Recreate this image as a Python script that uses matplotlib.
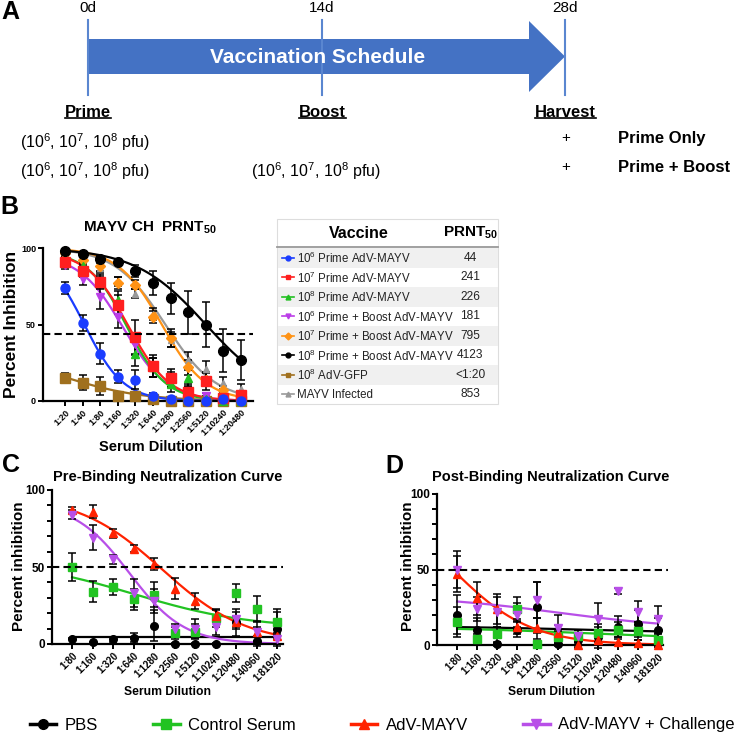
import numpy as np
import matplotlib
matplotlib.use('Agg')
import matplotlib.pyplot as plt
from matplotlib.patches import FancyArrow, Rectangle
from matplotlib.lines import Line2D

plt.rcParams['font.family'] = ['Liberation Sans', 'DejaVu Sans']
plt.rcParams['mathtext.fontset'] = 'custom'
plt.rcParams['mathtext.rm'] = 'Liberation Sans'
plt.rcParams['mathtext.it'] = 'Liberation Sans:italic'
plt.rcParams['mathtext.bf'] = 'Liberation Sans:bold'

W, H = 736, 735

# ---------------- panel B data ----------------
dil_b = ['1:20', '1:40', '1:80', '1:160', '1:320', '1:640', '1:1280',
         '1:2560', '1:5120', '1:10240', '1:20480']
vaccines = [r'10$^{6}$ Prime AdV-MAYV', r'10$^{7}$ Prime AdV-MAYV',
            r'10$^{8}$ Prime AdV-MAYV', r'10$^{6}$ Prime + Boost AdV-MAYV',
            r'10$^{7}$ Prime + Boost AdV-MAYV', r'10$^{8}$ Prime + Boost AdV-MAYV',
            r'10$^{8}$ AdV-GFP', 'MAYV Infected']
prnt50 = ['44', '241', '226', '181', '795', '4123', '<1:20', '853']
b_colors = ['#1a3cff', '#ff1f1f', '#22c022', '#bb3de8', '#ff9214', '#000000',
            '#a0701e', '#999999']
b_markers = ['o', 's', '^', 'v', 'D', 'o', 's', '^']
b_ms = [6.5, 6.5, 6, 6, 5, 7, 6.5, 5]

b_blue = [74, 51, 31, 16, 14, 3, 1, 0, 0, 1, 0]
b_red = [91, 85, 78, 63, 42, 23, 15, 6, 13, 2, 4]
b_green = [93, 88, 78, 66, 31, 22, 11, 15, 1, 0, 0]
b_magenta = [89, 80, 68, 55, 37, 22, 14, 6, 3, 2, 1]
b_orange = [97, 92, 88, 77, 76, 55, 41, 22, 14, 7, 4]
b_black = [98, 96, 93, 91, 85, 77, 67, 58, 50, 33, 27]
b_brown = [15, 12, 10, 3, 3, 1, 0, 0, 0, 0, 0]
b_grey = [96, 93, 87, 78, 70, 57, 40, 27, 21, 12, 8]

b_blue_err = [4, 5, 7, 4, 6, 2, 1, 1, 1, 1, 1]
b_red_err = [3, 4, 5, 6, 11, 7, 6, 5, 6, 3, 2]
b_green_err = [2, 3, 4, 6, 8, 6, 5, 5, 2, 2, 1]
b_magenta_err = [3, 4, 8, 7, 7, 6, 5, 3, 2, 2, 1]
b_orange_err = [2, 2, 3, 4, 3, 4, 6, 5, 4, 3, 2]
b_black_err = [1, 1, 2, 2, 4, 8, 10, 14, 15, 14, 13]
b_brown_err = [3, 5, 6, 2, 2, 1, 1, 1, 1, 1, 1]
b_grey_err = [2, 2, 3, 3, 3, 4, 5, 5, 5, 4, 3]

# fitted curve parameters (top, bottom, midpoint index, slope)
b_fits = [(100, 0, 1.1, 0.9), (98, 0, 3.6, 0.85), (98, 0, 3.5, 0.9),
          (96, 0, 3.3, 0.8), (100, 0, 5.5, 0.8), (100, 0, 8.0, 0.5),
          (31, 0, 0.0, 0.45), (100, 0, 5.7, 0.7)]
b_cutoff = 44

# ---------------- panels C / D data ----------------
dil_cd = ['1:80', '1:160', '1:320', '1:640', '1:1280', '1:2560', '1:5120',
          '1:10240', '1:20480', '1:40960', '1:81920']
groups = ['PBS', 'Control Serum', 'AdV-MAYV', 'AdV-MAYV + Challenge']
cd_colors = ['#000000', '#22c322', '#ff2200', '#b84fe8']
cd_markers = ['o', 's', '^', 'v']

c_pbs = [3.5, 1, 3, 4, 12, 0, 0, 0, 14, 2, 10]
c_ctrl = [50, 34, 37, 29, 32, 7, 8, 17, 33, 23, 14]
c_adv = [87, 86, 72, 62, 52, 36, 28, 18, 14, 8, 5]
c_chal = [84, 69, 55, 33, 28, 10, 10, 11, 16, 8, 3]
c_pbs_err = [0.5, 0.5, 1.5, 3, 10, 0.5, 0.5, 0.5, 9, 3, 11]
c_ctrl_err = [9, 7, 5, 7, 8, 4, 5, 6, 6, 8, 9]
c_adv_err = [2, 4, 3, 2, 4, 7, 5, 4, 4, 3, 2]
c_chal_err = [3, 8, 3, 9, 8, 3, 6, 5, 5, 6, 3]
c_fits = [(4.5, 4.5, 5, 1), (55, 10, 3, 0.35), (97, 0, 4.39, 0.486), (92, 0, 2.8, 0.75)]

d_pbs = [20, 10, 0.5, 10, 25, 0.5, 3, 5, 12, 14, 10]
d_ctrl = [15, 4, 7, 24, 0.5, 5, 6, 8, 10, 9, 3]
d_adv = [47, 31, 24, 12, 11, 8, 0, 3, 2, 1, 0]
d_chal = [50, 24, 22, 20, 30, 11, 6, 17, 36, 22, 17]
d_pbs_err = [13, 8, 1, 5, 17, 1, 5, 7, 7, 9, 8]
d_ctrl_err = [10, 3, 5, 8, 1, 4, 4, 6, 5, 6, 4]
d_adv_err = [12, 11, 10, 5, 7, 5, 1, 3, 2, 2, 1]
d_chal_err = [12, 8, 10, 8, 12, 9, 4, 11, 2, 7, 9]
d_fits = [(12.5, 8, 6, 0.3), (12, 3, 7, 0.25), (100, 0, -0.233, 0.516), (33, 10, 5, 0.3)]
cd_cutoff = 50


def logistic(x, top, bot, mid, k):
    return bot + (top - bot) / (1 + np.exp(k * (x - mid)))


def px(x0, y0, x1, y1):
    # pixel box (top-left origin) -> figure fraction rect
    return [x0 / W, 1 - y1 / H, (x1 - x0) / W, (y1 - y0) / H]


def draw_series(ax, y, err, color, marker, ms, fit):
    x = np.arange(len(y))
    xs = np.linspace(0, len(y) - 1, 200)
    ax.plot(xs, logistic(xs, *fit), color=color, lw=1.6, zorder=2, clip_on=False)
    ax.errorbar(x, y, yerr=err, fmt='none', ecolor='black', elinewidth=1.1,
                capsize=3, capthick=1.1, zorder=3, clip_on=False)
    ax.plot(x, y, ls='none', marker=marker, color=color, ms=ms, zorder=4, clip_on=False)


def prism_axes(ax, labels, xlim, xfs, yfs, minor):
    ax.set_facecolor('none')
    ax.set_xlim(xlim)
    ax.set_ylim(0, 100)
    for s in ['top', 'right']:
        ax.spines[s].set_visible(False)
    for s in ['left', 'bottom']:
        ax.spines[s].set_linewidth(1.6)
    ax.set_xticks(range(len(labels)))
    ax.set_xticklabels(labels, rotation=45, ha='right', rotation_mode='anchor',
                       fontsize=xfs, fontweight='bold')
    ax.set_yticks([0, 50, 100])
    ax.set_yticklabels(['0', '50', '100'], fontsize=yfs, fontweight='bold')
    ax.tick_params(width=1.4, length=3.5, pad=1.5)
    if minor:
        ax.set_yticks(range(0, 101, 10), minor=True)
        ax.tick_params(which='minor', width=1.4, length=3.5)


fig = plt.figure(figsize=(W / 100, H / 100), dpi=100)

# overlay in pixel coordinates for schematic, labels and the table
ov = fig.add_axes([0, 0, 1, 1])
ov.set_xlim(0, W)
ov.set_ylim(H, 0)
ov.axis('off')

# ---------------- panel A ----------------
blue = '#4472C4'
ov.add_patch(FancyArrow(88, 56.5, 477, 0, width=35, head_width=71, head_length=36,
                        length_includes_head=True, color=blue, lw=0, zorder=1))
for xd, lab in zip([88, 322, 565], ['0d', '14d', '28d']):
    ov.plot([xd, xd], [20, 95], color='#5a86d0', lw=1.5, zorder=2)
    ov.text(xd, 8, lab, ha='center', va='center', fontsize=11)
ov.text(318, 57, 'Vaccination Schedule', ha='center', va='center', fontsize=15,
        fontweight='bold', color='white', zorder=3)
heads = []
for xd, lab in zip([88, 322, 565], ['Prime', 'Boost', 'Harvest']):
    heads.append(ov.text(xd, 112, lab, ha='center', va='center', fontsize=12,
                         fontweight='bold'))
dose = r'(10$^{6}$, 10$^{7}$, 10$^{8}$ pfu)'
ov.text(85, 142, dose, ha='center', va='center', fontsize=11.5)
ov.text(85, 171, dose, ha='center', va='center', fontsize=11.5)
ov.text(316, 171, dose, ha='center', va='center', fontsize=11.5)
ov.text(566, 138, '+', ha='center', va='center', fontsize=11)
ov.text(566, 167, '+', ha='center', va='center', fontsize=11)
ov.text(618, 138, 'Prime Only', ha='left', va='center', fontsize=12, fontweight='bold')
ov.text(618, 167, 'Prime + Boost', ha='left', va='center', fontsize=12, fontweight='bold')

for xy, letter in zip([(10, 12), (9, 207), (11, 465), (394, 466)], 'ABCD'):
    ov.text(xy[0], xy[1], letter, ha='center', va='center', fontsize=18, fontweight='bold')

# ---------------- panel B ----------------
axb = fig.add_axes(px(43, 248, 253, 401))
b_means = [b_blue, b_red, b_green, b_magenta, b_orange, b_black, b_brown, b_grey]
b_errs = [b_blue_err, b_red_err, b_green_err, b_magenta_err, b_orange_err,
          b_black_err, b_brown_err, b_grey_err]
b_order = [6, 7, 4, 3, 2, 1, 0, 5]
for i in b_order:
    draw_series(axb, b_means[i], b_errs[i], b_colors[i], b_markers[i], b_ms[i], b_fits[i])
axb.axhline(b_cutoff, color='black', lw=1.5, ls=(0, (3.5, 2)), zorder=5)
prism_axes(axb, dil_b, (-1.25, 10.68), 6.5, 6.5, False)

ov.text(150, 232, r'MAYV CH  PRNT$_{\mathbf{50}}$', ha='center', va='baseline',
        fontsize=11, fontweight='bold')
ov.text(12, 324, 'Percent Inhibition', rotation=90, ha='center', va='center',
        fontsize=12.5, fontweight='bold')
ov.text(151, 447, 'Serum Dilution', ha='center', va='center', fontsize=10.5,
        fontweight='bold')

# table of PRNT50
tx0, tx1, ty0, ty1 = 277, 498, 219, 404
row_top, row_h = 248, 19.5
ov.add_patch(Rectangle((tx0, ty0), tx1 - tx0, ty1 - ty0, fc='white', ec='#dddddd', lw=0.8))
for r, (lab, val) in enumerate(zip(vaccines, prnt50)):
    yc = row_top + (r + 0.5) * row_h
    if r % 2 == 0:
        ov.add_patch(Rectangle((tx0 + 0.5, row_top + r * row_h), tx1 - tx0 - 1, row_h,
                               fc='#f0f0f0', ec='none'))
    ov.plot([282, 294], [yc, yc], color=b_colors[r], lw=1.2)
    ov.plot([288], [yc], marker=b_markers[r], color=b_colors[r], ms=3.5)
    ov.text(297, yc + 1, lab, ha='left', va='center', fontsize=8.3, color='#222222')
    ov.text(470, yc, val, ha='center', va='center', fontsize=8.6, color='#222222')
ov.plot([tx0, tx1], [247, 247], color='#999999', lw=1.3)
ov.text(359, 233, 'Vaccine', ha='center', va='center', fontsize=11.5, fontweight='bold')
ov.text(443, 237, r'PRNT$_{\mathbf{50}}$', ha='left', va='baseline', fontsize=11,
        fontweight='bold')

# ---------------- panels C and D ----------------
c_means = [c_pbs, c_ctrl, c_adv, c_chal]
c_errs = [c_pbs_err, c_ctrl_err, c_adv_err, c_chal_err]
d_means = [d_pbs, d_ctrl, d_adv, d_chal]
d_errs = [d_pbs_err, d_ctrl_err, d_adv_err, d_chal_err]

axc = fig.add_axes(px(52, 490, 283, 644))
for i in range(4):
    draw_series(axc, c_means[i], c_errs[i], cd_colors[i], cd_markers[i], 5.5, c_fits[i])
axc.axhline(cd_cutoff, color='black', lw=1.5, ls=(0, (3.5, 2)), zorder=5)
prism_axes(axc, dil_cd, (-0.98, 10.29), 7, 8.5, True)

axd = fig.add_axes(px(437, 494, 663, 645))
for i in range(4):
    draw_series(axd, d_means[i], d_errs[i], cd_colors[i], cd_markers[i], 5.5, d_fits[i])
axd.axhline(cd_cutoff, color='black', lw=1.5, ls=(0, (3.5, 2)), zorder=5, clip_on=False,
            xmax=1.02)
prism_axes(axd, dil_cd, (-1.0, 10.25), 7, 8.5, True)

for xc, yl, title in [(168, 19, 'Pre-Binding Neutralization Curve'),
                      (551, 408, 'Post-Binding Neutralization Curve')]:
    ov.text(xc, 477, title, ha='center', va='center', fontsize=10.5, fontweight='bold')
    ov.text(yl, 566, 'Percent inhibition', rotation=90, ha='center', va='center',
            fontsize=11, fontweight='bold')
    ov.text(xc, 692, 'Serum Dilution', ha='center', va='center', fontsize=8.7,
            fontweight='bold')

handles = [Line2D([], [], color=cd_colors[i], marker=cd_markers[i], lw=2.5, ms=7)
           for i in range(4)]
fig.legend(handles, groups, loc='center', bbox_to_anchor=(382 / W, 10 / H), ncol=4,
           frameon=False, fontsize=12, handlelength=1.6, handletextpad=0.5,
           columnspacing=3.3)

# underline the schedule headings
fig.canvas.draw()
inv = ov.transData.inverted()
for t in heads:
    bb = t.get_window_extent()
    (xa, _), (xb, _) = inv.transform([(bb.x0, bb.y0), (bb.x1, bb.y0)])
    ov.plot([xa, xb], [118, 118], color='black', lw=1.2)

fig.savefig('out.png', dpi=100)
